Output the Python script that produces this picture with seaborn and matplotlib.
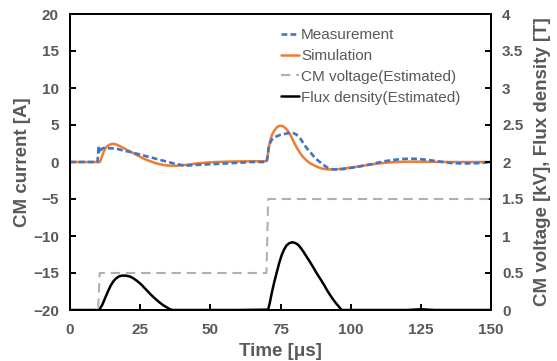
import matplotlib
matplotlib.use("Agg")
import matplotlib.pyplot as plt
import seaborn as sns
import pandas as pd

# ---- data ----
meas_t = [0, 9.8, 10.0, 10.2, 10.4, 10.7, 11.2, 12, 13, 14, 15, 16.5, 18, 19.5, 21, 23, 25, 27, 29, 31,
          33, 35, 37, 39, 41, 43, 45, 50, 55, 60, 65, 70,
          70.3, 70.8, 71.5, 72.4, 73.5, 74.8, 76, 77.2, 78.4, 79.5, 80.5, 81.3, 82.2, 83.2, 84.3, 85.5,
          86.5, 87.5, 88.5, 89.7, 90.7, 91.7, 92.8, 93.8, 95.5, 97.5, 100, 103, 106, 109, 112, 115, 118,
          121, 124, 127, 130, 133, 136, 140, 146, 150]
meas_a = [0, 0, 1.0, 2.2, 1.2, 1.5, 1.75, 1.9, 1.9, 1.85, 1.85, 1.8, 1.65, 1.5, 1.4, 1.2, 1.0, 0.8, 0.6, 0.4,
          0.2, 0.0, -0.2, -0.35, -0.5, -0.45, -0.4, -0.3, -0.2, -0.1, 0, 0,
          0.5, 2.0, 2.8, 3.2, 3.45, 3.65, 3.75, 3.85, 3.95, 3.9, 3.75, 3.5, 3.1, 2.5, 1.9, 1.4,
          0.9, 0.5, 0.15, -0.2, -0.5, -0.75, -0.9, -1.0, -1.0, -0.95, -0.8, -0.6, -0.4, -0.15, 0.1, 0.27, 0.4,
          0.45, 0.42, 0.3, 0.15, 0.0, -0.15, -0.2, -0.15, 0]

sim_t = [0, 10.6, 11, 11.5, 12, 12.7, 13.5, 14.5, 15.3, 16.2, 17.2, 18.5, 20, 21.5, 23, 24.5, 26, 27.5,
         29, 30.5, 32, 34, 36, 38, 40, 42, 45, 48, 52, 56, 60, 65, 69.9,
         70.2, 70.6, 71, 71.5, 72, 72.7, 73.5, 74.3, 75.2, 76, 77, 78, 79, 80, 81, 82, 83, 84.3, 85.5,
         86.7, 88, 89.5, 91, 92.5, 94, 96, 98, 100, 103, 106, 110, 114, 118, 122, 128, 135, 150]
sim_a = [0, 0, 0.3, 0.9, 1.4, 1.9, 2.2, 2.4, 2.45, 2.4, 2.25, 2.0, 1.7, 1.4, 1.1, 0.8, 0.5, 0.25,
         0.05, -0.15, -0.3, -0.45, -0.5, -0.5, -0.45, -0.35, -0.2, -0.1, 0.0, 0.05, 0.08, 0.1, 0.1,
         0.3, 1.3, 2.3, 3.1, 3.7, 4.2, 4.6, 4.85, 4.9, 4.8, 4.5, 4.0, 3.3, 2.5, 1.8, 1.2, 0.7, 0.2, -0.15,
         -0.4, -0.65, -0.85, -0.97, -1.0, -1.0, -0.95, -0.85, -0.75, -0.6, -0.4, -0.2, -0.05, 0.03, 0.05, 0.02, 0, 0]

volt_t = [0, 10, 10.6, 70, 70.6, 150]
volt_kv = [0, 0, 0.5, 0.5, 1.5, 1.5]

flux_t = [0, 10.4, 11.5, 12.5, 13.5, 14.5, 15.5, 16.5, 17.5, 18.5, 19.6, 20.5, 21.5, 22.5, 24, 25.5, 27,
          28.5, 30, 31.5, 33, 34.5, 35.5, 36.5, 60, 70.6,
          71.2, 72, 72.8, 73.6, 74.5, 75.4, 76.3, 77.2, 78.2, 79.3, 80.3, 81.3, 82.3, 83.3, 84.3, 85.5,
          86.7, 88, 89.2, 90.5, 91.7, 92.8, 93.8, 94.8, 95.8, 96.8, 120, 125, 130, 150]
flux_b = [0, 0, 0.07, 0.16, 0.25, 0.33, 0.39, 0.43, 0.455, 0.465, 0.465, 0.46, 0.45, 0.43, 0.39, 0.34, 0.28,
          0.22, 0.165, 0.115, 0.07, 0.035, 0.012, 0, 0, 0.005,
          0.1, 0.25, 0.38, 0.5, 0.63, 0.74, 0.82, 0.875, 0.905, 0.915, 0.905, 0.88, 0.835, 0.78, 0.72, 0.65,
          0.575, 0.49, 0.42, 0.34, 0.26, 0.195, 0.14, 0.09, 0.045, 0, 0, 0.01, 0, 0]

x_ticks = [0, 25, 50, 75, 100, 125, 150]
left_ticks = [-20, -15, -10, -5, 0, 5, 10, 15, 20]
right_ticks = [0, 0.5, 1, 1.5, 2, 2.5, 3, 3.5, 4]
right_ticklabels = ["0", "0.5", "1", "1.5", "2", "2.5", "3", "3.5", "4"]

labels = ["Measurement", "Simulation", "CM voltage(Estimated)", "Flux density(Estimated)"]

# ---- plot ----
sns.set_style("white")
plt.rcParams["font.family"] = ["Liberation Sans", "DejaVu Sans"]
TXT = "#595959"

fig = plt.figure(figsize=(5.57, 3.61), dpi=100)
ax = fig.add_axes([70 / 557, 1 - 310 / 361, 421 / 557, 296 / 361])
ax2 = ax.twinx()

df_m = pd.DataFrame({"t": meas_t, "v": meas_a})
df_s = pd.DataFrame({"t": sim_t, "v": sim_a})
df_v = pd.DataFrame({"t": volt_t, "v": volt_kv})
df_f = pd.DataFrame({"t": flux_t, "v": flux_b})

sns.lineplot(data=df_s, x="t", y="v", ax=ax, color="#ED7D31", lw=1.8, sort=False, label=labels[1])
sns.lineplot(data=df_m, x="t", y="v", ax=ax, color="#4472C4", lw=1.9, sort=False, label=labels[0],
             linestyle=(0, (2.2, 1.2)))
sns.lineplot(data=df_v, x="t", y="v", ax=ax2, color="#B0B0B0", lw=1.5, sort=False, label=labels[2],
             linestyle=(0, (4.5, 2.8)))
sns.lineplot(data=df_f, x="t", y="v", ax=ax2, color="black", lw=1.8, sort=False, label=labels[3])

ax.set_xlim(0, 150)
ax.set_ylim(-20, 20)
ax2.set_ylim(0, 4)
ax.set_xticks(x_ticks)
ax.set_yticks(left_ticks)
ax2.set_yticks(right_ticks)
ax2.set_yticklabels(right_ticklabels)

for a in (ax, ax2):
    for s in a.spines.values():
        s.set_color("black")
        s.set_linewidth(1.4)
ax.tick_params(axis="x", direction="in", length=4, width=1.4, colors="black",
               labelcolor=TXT, labelsize=11, pad=9, bottom=True)
ax.tick_params(axis="y", direction="in", length=4, width=1.4, colors="black",
               labelcolor=TXT, labelsize=11, pad=8, left=True)
ax2.tick_params(axis="y", direction="in", length=4, width=1.4, colors="black",
                labelcolor=TXT, labelsize=11, pad=8, right=True)
for lab in ax.get_xticklabels() + ax.get_yticklabels() + ax2.get_yticklabels():
    lab.set_fontweight("bold")

ax.set_xlabel("Time [μs]", fontsize=13.5, fontweight="bold", color=TXT, labelpad=5)
ax.set_ylabel("CM current [A]", fontsize=13.5, fontweight="bold", color=TXT, labelpad=1.5)
ax2.set_ylabel("CM voltage [kV], Flux density [T]", fontsize=13.5, fontweight="bold", color=TXT, labelpad=8)

h1, l1 = ax.get_legend_handles_labels()
h2, l2 = ax2.get_legend_handles_labels()
hmap = dict(zip(l1 + l2, h1 + h2))
if ax.get_legend():
    ax.get_legend().remove()
if ax2.get_legend():
    ax2.get_legend().remove()
leg = ax2.legend([hmap[l] for l in labels], labels, loc="upper left",
                 bbox_to_anchor=(281 / 557, 1 - 28 / 361), bbox_transform=fig.transFigure,
                 frameon=False, fontsize=11, handlelength=1.15, handletextpad=0.15,
                 labelspacing=0.45, borderpad=0.0, borderaxespad=0.0)
for t in leg.get_texts():
    t.set_color(TXT)

fig.savefig("out.png", dpi=100)
